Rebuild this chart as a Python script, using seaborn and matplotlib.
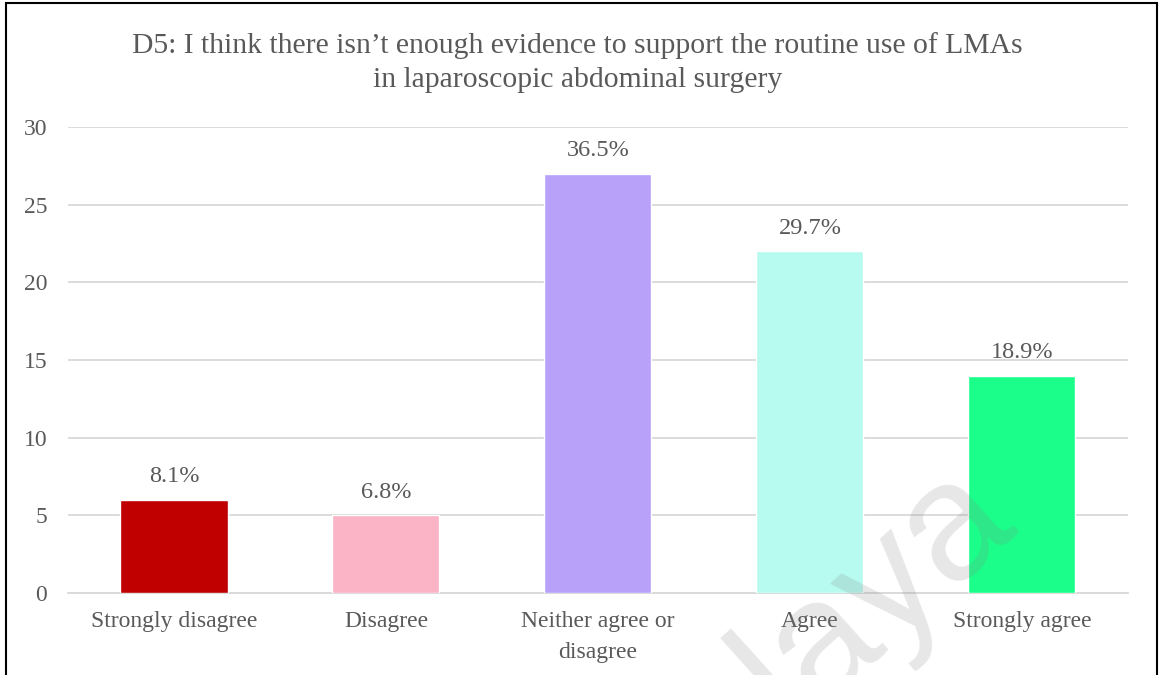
import matplotlib
matplotlib.use("Agg")
import matplotlib.pyplot as plt
import seaborn as sns
import pandas as pd
from matplotlib.patches import Rectangle

# data
categories = ["Strongly disagree", "Disagree", "Neither agree or\ndisagree", "Agree", "Strongly agree"]
counts = [6, 5, 27, 22, 14]
pct_labels = ["8.1%", "6.8%", "36.5%", "29.7%", "18.9%"]
bar_colors = ["#C00000", "#FAB4C6", "#B8A1F9", "#B7FBF0", "#1BFF8A"]
title_lines = ["D5: I think there isn\u2019t enough evidence to support the routine use of LMAs",
               "in laparoscopic abdominal surgery"]

df = pd.DataFrame({"category": categories, "count": counts})

sns.set_theme(style="white")
plt.rcParams["font.family"] = ["Liberation Serif", "DejaVu Serif"]
grey = "#595959"

fig = plt.figure(figsize=(11.62, 6.75), dpi=100)
ax = fig.add_axes([0.0585, 0.1215, 0.9122, 0.6904])

sns.barplot(data=df, x="category", y="count", hue="category", palette=bar_colors,
            width=0.505, legend=False, saturation=1, ax=ax, zorder=3)

ax.set_ylim(0, 30)
ax.set_xlim(-0.5, 4.5)
ax.set_yticks(range(0, 31, 5))
ax.yaxis.grid(True, color="#D9D9D9", linewidth=1.3, zorder=0)
ax.set_axisbelow(True)
for s in ["top", "right", "left"]:
    ax.spines[s].set_visible(False)
ax.spines["bottom"].set_color("#D9D9D9")
ax.spines["bottom"].set_linewidth(1.3)
ax.tick_params(axis="both", length=0, labelsize=17, labelcolor=grey)
ax.tick_params(axis="y", pad=15)
ax.tick_params(axis="x", pad=13)
for t in ax.get_xticklabels():
    t.set_linespacing(1.6)
ax.set_xlabel("")
ax.set_ylabel("")

for i, (v, lab) in enumerate(zip(counts, pct_labels)):
    ax.annotate(lab, (i, v), xytext=(0, 12.5), textcoords="offset points",
                ha="center", va="baseline", fontsize=17.5, color=grey)

fig.text(0.497, 0.9215, title_lines[0], ha="center", va="baseline", fontsize=21.3, color=grey)
fig.text(0.497, 0.871, title_lines[1], ha="center", va="baseline", fontsize=21.3, color=grey)

# frame around the picture
fig.patches.append(Rectangle((0.0055, -0.05), 0.99, 1.046, transform=fig.transFigure,
                             fill=False, edgecolor="black", linewidth=1.5))

# faint watermark
fig.text(0.68, -0.079, "laya", rotation=42, rotation_mode="anchor", fontsize=120,
         color="#808080", alpha=0.19, family="Liberation Sans",
         ha="left", va="baseline", zorder=10)

fig.savefig("out.png", dpi=100)
